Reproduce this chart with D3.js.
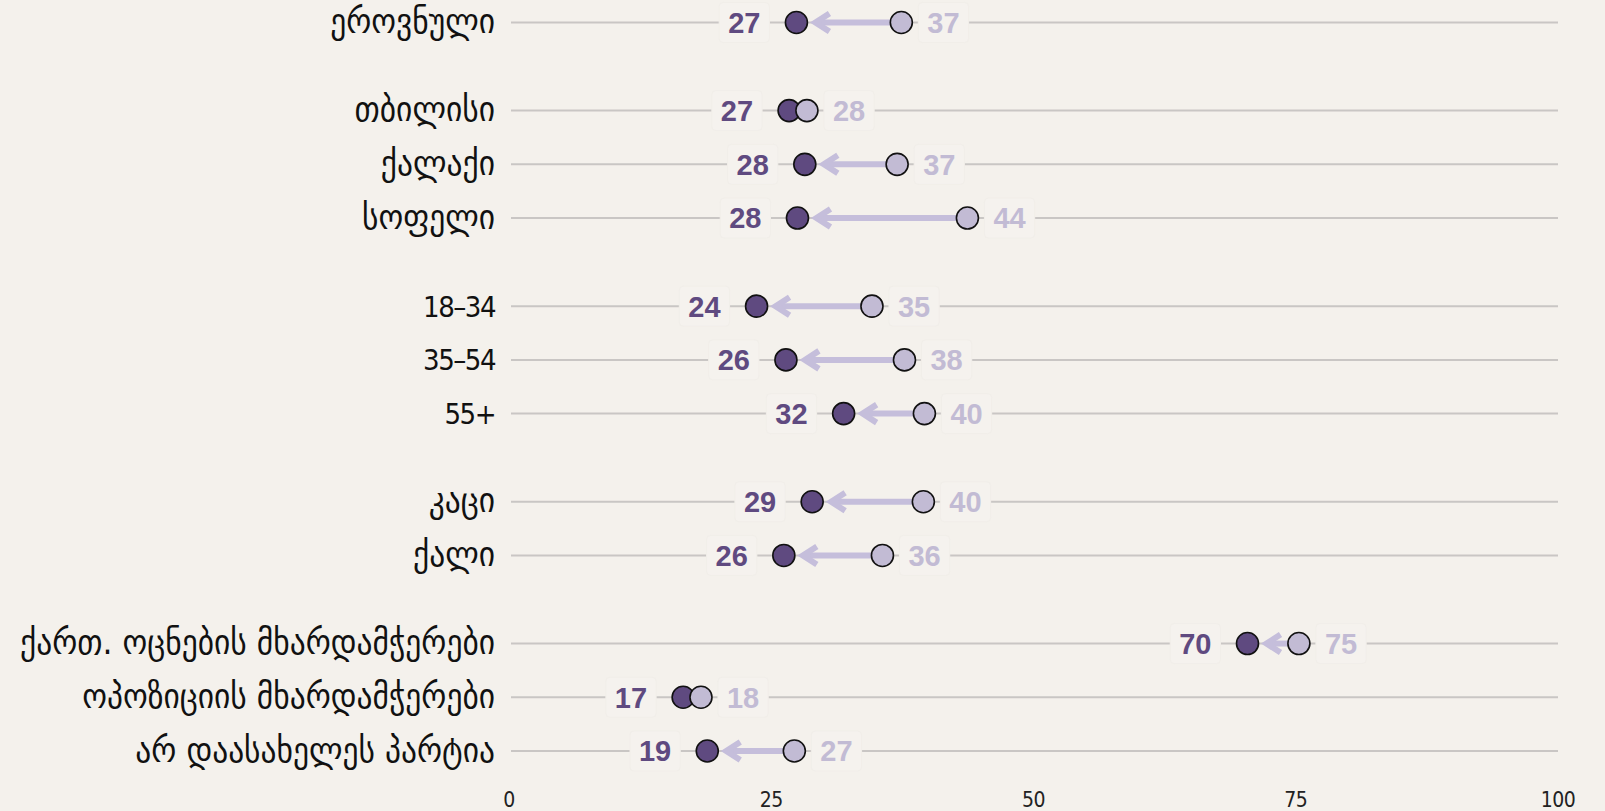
<!DOCTYPE html>
<html>
<head>
<meta charset="utf-8">
<script src="https://cdn.jsdelivr.net/npm/d3@7"></script>
<style>
  html, body { margin: 0; padding: 0; background: #f4f1ec; }
  svg { display: block; }
</style>
</head>
<body>
<svg id="chart" width="1605" height="811"></svg>
<script>
// categories, top to bottom, with the group each one belongs to
const categories = ["ეროვნული", "თბილისი", "ქალაქი", "სოფელი", "18–34", "35–54", "55+",
  "კაცი", "ქალი", "ქართ. ოცნების მხარდამჭერები", "ოპოზიციის მხარდამჭერები", "არ დაასახელეს პარტია"];
const groups = [0, 1, 1, 1, 2, 2, 2, 3, 3, 4, 4, 4];
// earlier survey (light) and latest survey (dark)
const before = [37.4, 28.4, 37.0, 43.7, 34.6, 37.7, 39.6, 39.5, 35.6, 75.3, 18.3, 27.2];
const after  = [27.4, 26.7, 28.2, 27.5, 23.6, 26.4, 31.9, 28.9, 26.2, 70.4, 16.6, 18.9];
const xTicks = [0, 25, 50, 75, 100];

const darkColor = "#5f4a80";
const lightColor = "#c2bbd4";
const arrowColor = "#c5bedb";
const r = 11;

const rows = categories.map((name, i) => ({
  name, i, g: groups[i], before: before[i], after: after[i]
}));

const svg = d3.select("#chart");

const x = d3.scaleLinear().domain([0, 100]).range([509, 1558]);
const groupGap = 0.64;
const slot = d => d.i + d.g * groupGap;
const y = d3.scaleLinear()
  .domain([0, d3.max(rows, slot)])
  .range([22.5, 751]);

// grid lines
svg.append("g")
  .selectAll("line")
  .data(rows)
  .join("line")
  .attr("x1", x(0) + 2)
  .attr("x2", x(100))
  .attr("y1", d => y(slot(d)))
  .attr("y2", d => y(slot(d)))
  .attr("stroke", "#c9c6c4")
  .attr("stroke-width", 2);

// category labels (georgian ones are a bit bigger)
const isGeorgian = s => /[\u10A0-\u10FF]/.test(s);
svg.append("g")
  .selectAll("text")
  .data(rows)
  .join("text")
  .attr("x", 495)
  .attr("y", d => y(slot(d)))
  .attr("dy", d => isGeorgian(d.name) ? "0.3em" : "0.36em")
  .attr("text-anchor", "end")
  .attr("font-family", "'DejaVu Sans Condensed', 'DejaVu Sans', sans-serif")
  .attr("font-size", d => isGeorgian(d.name) ? 35 : 29)
  .attr("letter-spacing", d => isGeorgian(d.name) ? 0 : -1.5)
  .attr("fill", "#111")
  .text(d => d.name);

// x axis labels
svg.append("g")
  .selectAll("text")
  .data(xTicks)
  .join("text")
  .attr("x", d => x(d))
  .attr("y", 807)
  .attr("text-anchor", "middle")
  .attr("font-family", "'DejaVu Sans Condensed', sans-serif")
  .attr("font-size", 21)
  .attr("letter-spacing", -0.5)
  .attr("fill", "#222")
  .text(d => d);

// value labels with their faint backing boxes
const labelFont = "'Liberation Sans', Arial, sans-serif";
function valueLabel(sel, getX, anchor, color) {
  const g = sel.append("g");
  g.append("text")
    .attr("x", getX)
    .attr("y", d => y(slot(d)))
    .attr("dy", "0.36em")
    .attr("text-anchor", anchor)
    .attr("font-family", labelFont)
    .attr("font-weight", "bold")
    .attr("font-size", 29)
    .attr("fill", color)
    .text(d => Math.round(anchor === "end" ? d.after : d.before))
    .each(function () {
      const b = this.getBBox();
      d3.select(this.parentNode).insert("rect", "text")
        .attr("x", b.x - 9)
        .attr("y", y(slot(d3.select(this).datum())) - 20)
        .attr("width", b.width + 18)
        .attr("height", 40)
        .attr("rx", 4)
        .attr("fill", "#f5f2ee")
        .attr("stroke", "#f1eee9");
    });
}

const rowG = svg.append("g")
  .selectAll("g")
  .data(rows)
  .join("g");

rowG.each(function (d) {
  const g = d3.select(this);
  valueLabel(g, d => x(d.after) - 36, "end", darkColor);
  valueLabel(g, d => x(d.before) + 26, "start", lightColor);
});

// arrows, from the earlier value to the latest
rowG.filter(d => x(d.before) - x(d.after) > 2 * r + 14)
  .each(function (d) {
    const g = d3.select(this);
    const cy = y(slot(d));
    const tip = x(d.after) + r + 6;
    g.append("line")
      .attr("x1", tip + 4)
      .attr("x2", x(d.before))
      .attr("y1", cy)
      .attr("y2", cy)
      .attr("stroke", arrowColor)
      .attr("stroke-width", 6);
    g.append("path")
      .attr("d", `M${tip + 16},${cy - 9}L${tip + 2},${cy}L${tip + 16},${cy + 9}`)
      .attr("fill", "none")
      .attr("stroke", arrowColor)
      .attr("stroke-width", 6);
  });

// dots: latest first, earlier on top
rowG.append("circle")
  .attr("cx", d => x(d.after))
  .attr("cy", d => y(slot(d)))
  .attr("r", r)
  .attr("fill", darkColor)
  .attr("stroke", "#111")
  .attr("stroke-width", 1.6);

rowG.append("circle")
  .attr("cx", d => x(d.before))
  .attr("cy", d => y(slot(d)))
  .attr("r", r)
  .attr("fill", lightColor)
  .attr("stroke", "#111")
  .attr("stroke-width", 1.6);
</script>
</body>
</html>
